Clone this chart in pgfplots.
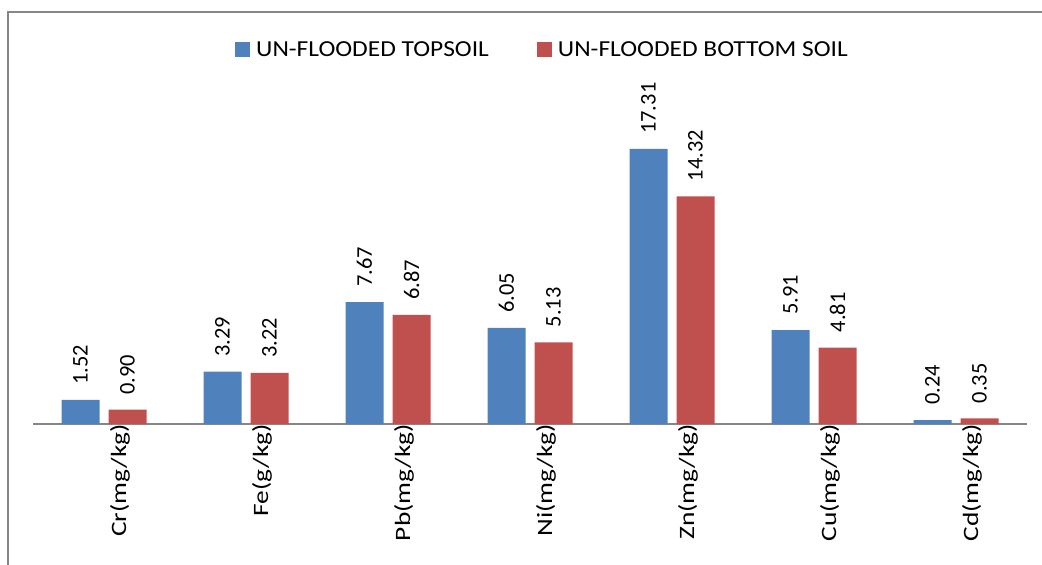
\documentclass[border=0pt]{standalone}
\usepackage{pgfplots}
\pgfplotsset{compat=1.18}
\usepackage{fontspec}
\setmainfont{Carlito}
\newfontfamily\catfont[FakeStretch=1.25]{Carlito}
\newfontfamily\legfont[FakeStretch=1.11]{Carlito}
\definecolor{cblue}{HTML}{4F81BD}
\definecolor{cred}{HTML}{C0504D}
\definecolor{cgray}{HTML}{868686}
\begin{document}
\begin{tikzpicture}[x=1bp,y=1bp]
\useasboundingbox (0,0) rectangle (1042,565);
\draw[cgray,line width=1.5bp] (8,0) -- (8,553) -- (1042,553);
\begin{axis}[
  at={(33bp,141bp)}, anchor=south west,
  scale only axis, width=994bp, height=317.8bp,
  xmin=-0.5, xmax=6.5, ymin=0, ymax=20,
  clip=false,
  hide y axis,
  axis x line*=bottom,
  x axis line style={cgray, line width=1.5bp},
  xtick=data,
  xticklabels={Cr(mg/kg),Fe(g/kg),Pb(mg/kg),Ni(mg/kg),Zn(mg/kg),Cu(mg/kg),Cd(mg/kg)},
  xtick style={draw=none},
  major tick length=0pt,
  xticklabel style={rotate=90, anchor=east, inner sep=0pt, yshift=-16bp, font=\catfont\fontsize{22}{22}\selectfont},
  ybar=9bp, bar width=38bp,
  nodes near coords,
  /pgf/number format/assume math mode=true,
  nodes near coords style={rotate=90, anchor=west, inner xsep=15bp, inner ysep=0pt,
    font=\fontsize{22.5}{22.5}\selectfont,
    /pgf/number format/fixed, /pgf/number format/fixed zerofill, /pgf/number format/precision=2},
  legend columns=2,
  legend style={at={(0.2032,1.178)}, anchor=west, draw=none, fill=none,
    inner sep=0pt, column sep=0pt,
    nodes={inner sep=0pt},
    font=\legfont\fontsize{23}{23}\selectfont,
    /tikz/every odd column/.append style={column sep=6bp},
    /tikz/every even column/.append style={column sep=48bp}},
  legend image code/.code={\fill[#1] (0bp,-7.5bp) rectangle (15bp,7.5bp);},
]
\addplot[fill=cblue, draw=none] coordinates {(0,1.52) (1,3.29) (2,7.67) (3,6.05) (4,17.31) (5,5.91) (6,0.24)};
\addplot[fill=cred, draw=none] coordinates {(0,0.90) (1,3.22) (2,6.87) (3,5.13) (4,14.32) (5,4.81) (6,0.35)};
\legend{UN-FLOODED TOPSOIL, UN-FLOODED BOTTOM SOIL}
\end{axis}
\end{tikzpicture}
\end{document}
